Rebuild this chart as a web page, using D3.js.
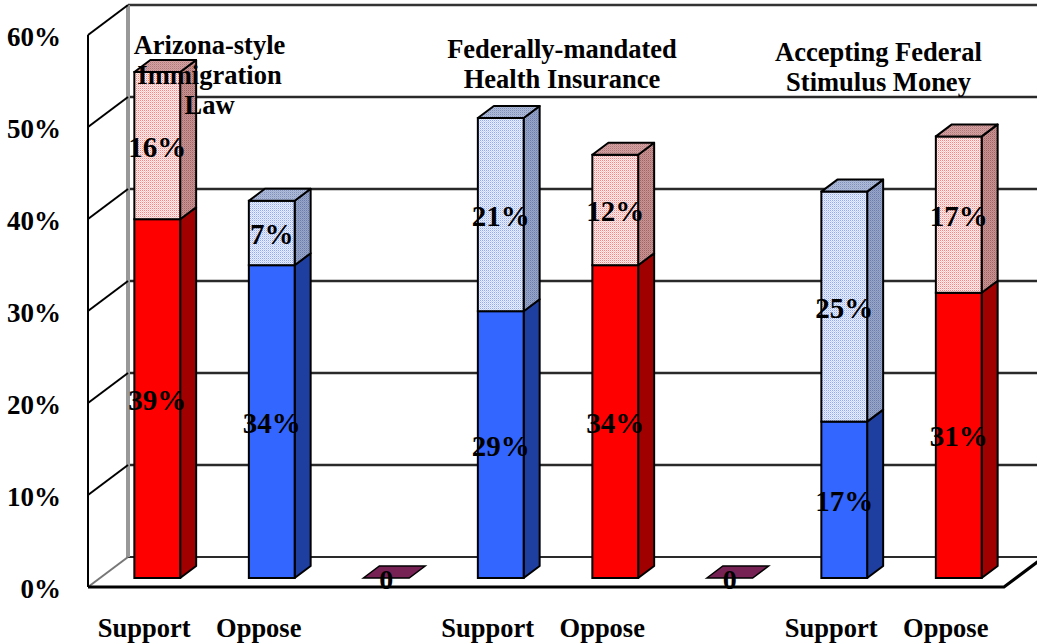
<!DOCTYPE html>
<html>
<head>
<meta charset="utf-8">
<script src="https://cdn.jsdelivr.net/npm/d3@7"></script>
<style>
  html, body { margin: 0; padding: 0; background: #fff; }
  svg { display: block; }
  text { font-family: "Liberation Serif", "Times New Roman", serif; font-weight: bold; fill: #000; }
</style>
</head>
<body>
<svg id="chart" width="1037" height="643"></svg>
<script>
// Bar slots, left to right (blank slots separate the three questions)
const categories = ["Support", "Oppose", "", "Support", "Oppose", "", "Support", "Oppose"];
// Lower (solid) segment of each bar, in percent
const baseValues = [39, 34, 0, 29, 34, 0, 17, 31];
// Upper (light, dotted) segment of each bar, in percent
const topValues  = [16, 7, 0, 21, 12, 0, 25, 17];
// Which colour family each bar belongs to
const camp = ["R", "D", "", "D", "R", "", "D", "R"];
// Question titles, one per group of two bars
const questions = [
  ["Arizona-style", "Immigration", "Law"],
  ["Federally-mandated", "Health Insurance"],
  ["Accepting Federal", "Stimulus Money"]
];
const questionSlots = [[0, 1], [3, 4], [6, 7]];
const yTicks = [0, 10, 20, 30, 40, 50, 60];

const W = 1037, H = 643;
const svg = d3.select("#chart");

// ---- patterns for the dotted (light) segments ----
const defs = svg.append("defs");
function dotted(id, base, dotA, dotB) {
  const p = defs.append("pattern").attr("id", id)
    .attr("width", 2).attr("height", 2).attr("patternUnits", "userSpaceOnUse");
  p.append("rect").attr("width", 2).attr("height", 2).attr("fill", base);
  p.append("rect").attr("x", 0).attr("y", 0).attr("width", 1).attr("height", 1).attr("fill", dotA);
  p.append("rect").attr("x", 1).attr("y", 1).attr("width", 1).attr("height", 1).attr("fill", dotB);
  return `url(#${id})`;
}
const palette = {
  R: {
    front: "#FF0000", side: "#A00000",
    lightFront: dotted("rLF", "#FFF0F0", "#FF8080", "#FFC4C4"),
    lightSide:  dotted("rLS", "#C89494", "#A06464", "#B88080"),
    lightTop:   dotted("rLT", "#D4A4A4", "#B07878", "#C89090")
  },
  D: {
    front: "#3366FF", side: "#1F3FA0",
    lightFront: dotted("dLF", "#EAF0FF", "#92A8F0", "#C4D2FF"),
    lightSide:  dotted("dLS", "#98A6C8", "#6C7CAC", "#8494BC"),
    lightTop:   dotted("dLT", "#B0BCD8", "#8090BC", "#A0AED0")
  }
};

// ---- scales and 3-D projection ----
const x = d3.scaleBand().domain(d3.range(categories.length))
  .range([88, 1004]).paddingInner(0.6).paddingOuter(0.3);
const y = d3.scaleLinear().domain([0, 60]).range([587, 35]);
const DX = 40, DY = -30;                 // full floor depth
const off = z => [DX * z, DY * z];       // screen shift at depth z (0 front, 1 back)
const zBar0 = 0.3, zBar1 = 0.7;          // bars occupy the middle of the depth

const [bx, by] = off(zBar0);
const [sdx, sdy] = [DX * (zBar1 - zBar0), DY * (zBar1 - zBar0)];

const [wx, wy] = off(1);
const gWalls = svg.append("g");

// back wall gridlines (0 line doubles as back edge of floor)
gWalls.selectAll("line.grid").data(yTicks).join("line")
  .attr("class", "grid")
  .attr("x1", 88 + wx).attr("x2", W + 10)
  .attr("y1", d => y(d) + wy).attr("y2", d => y(d) + wy)
  .attr("stroke", d => d === 60 ? "#333" : "#2a2a2a")
  .attr("stroke-width", d => d === 0 ? 2 : 2.5);

// back vertical edge of the side wall
gWalls.append("line")
  .attr("x1", 88 + wx).attr("x2", 88 + wx)
  .attr("y1", y(0) + wy).attr("y2", y(60) + wy)
  .attr("stroke", "#999").attr("stroke-width", 4);

// side wall diagonals
gWalls.selectAll("line.diag").data(yTicks).join("line")
  .attr("class", "diag")
  .attr("x1", 88).attr("y1", d => y(d))
  .attr("x2", 88 + wx).attr("y2", d => y(d) + wy)
  .attr("stroke", d => d === 0 ? "#777" : "#000").attr("stroke-width", 2);

// front vertical edge of the side wall
gWalls.append("line")
  .attr("x1", 88).attr("x2", 88).attr("y1", y(0)).attr("y2", y(60))
  .attr("stroke", "#000").attr("stroke-width", 2);

// floor front edge and right end
gWalls.append("polyline")
  .attr("points", [[88, y(0)], [1004, y(0)], [1004 + wx, y(0) + wy]].map(p => p.join(",")).join(" "))
  .attr("fill", "none").attr("stroke", "#000").attr("stroke-width", 3);

// ---- bars ----
const gBars = svg.append("g");
const pts = a => a.map(p => p.join(",")).join(" ");

categories.forEach((cat, i) => {
  const xl = x(i) + bx, xr = xl + x.bandwidth();
  const yAt = v => y(v) + by;
  const total = baseValues[i] + topValues[i];
  const g = gBars.append("g");

  if (total === 0) {
    // zero-height marker: just the flat top face
    const yt = yAt(0);
    g.append("polygon")
      .attr("points", pts([[xl, yt], [xl + sdx, yt + sdy], [xr + sdx, yt + sdy], [xr, yt]]))
      .attr("fill", "#772255").attr("stroke", "#000").attr("stroke-width", 1.5);
    return;
  }

  const pal = palette[camp[i]];
  const segs = [
    { a: 0, b: baseValues[i], front: pal.front, side: pal.side, top: pal.lightTop },
    { a: baseValues[i], b: total, front: pal.lightFront, side: pal.lightSide, top: pal.lightTop }
  ];
  segs.forEach(s => {
    const ya = yAt(s.a), yb = yAt(s.b);
    g.append("polygon")
      .attr("points", pts([[xr, ya], [xr + sdx, ya + sdy], [xr + sdx, yb + sdy], [xr, yb]]))
      .attr("fill", s.side).attr("stroke", "#000").attr("stroke-width", 2).attr("stroke-linejoin", "round");
    g.append("rect")
      .attr("x", xl).attr("y", yb).attr("width", xr - xl).attr("height", ya - yb)
      .attr("fill", s.front).attr("stroke", "#000").attr("stroke-width", 2);
  });
  const yt = yAt(total);
  g.append("polygon")
    .attr("points", pts([[xl, yt], [xl + sdx, yt + sdy], [xr + sdx, yt + sdy], [xr, yt]]))
    .attr("fill", segs[1].top).attr("stroke", "#000").attr("stroke-width", 2).attr("stroke-linejoin", "round");
});

// ---- value labels ----
const gLabels = svg.append("g");
categories.forEach((cat, i) => {
  const cx = x(i) + bx + x.bandwidth() / 2;
  const yAt = v => y(v) + by;
  const total = baseValues[i] + topValues[i];
  if (total === 0) {
    gLabels.append("text").attr("x", cx).attr("y", yAt(0) + 1)
      .attr("text-anchor", "middle").attr("dominant-baseline", "central")
      .attr("font-size", 28).text("0");
    return;
  }
  [[0, baseValues[i]], [baseValues[i], total]].forEach(([a, b]) => {
    gLabels.append("text").attr("x", cx).attr("y", yAt((a + b) / 2) + 1)
      .attr("text-anchor", "middle").attr("dominant-baseline", "central")
      .attr("font-size", 29).text(`${b - a}%`);
  });
});

// ---- y axis labels ----
svg.append("g").selectAll("text").data(yTicks).join("text")
  .attr("x", 61).attr("y", d => y(d) + 2)
  .attr("text-anchor", "end").attr("dominant-baseline", "central")
  .attr("font-size", 27).text(d => `${d}%`);

// ---- category labels under the floor ----
svg.append("g").selectAll("text")
  .data(categories.map((c, i) => ({ c, i })).filter(d => d.c !== ""))
  .join("text")
  .attr("x", d => x(d.i) + x.bandwidth() / 2 - 1)
  .attr("y", 637)
  .attr("text-anchor", "middle").attr("font-size", 26.5)
  .text(d => d.c);

// ---- question titles above each pair of bars ----
const titleShift = [-5, 4, -23];
const titleTop = [54, 58, 61];
questions.forEach((lines, q) => {
  const [i0, i1] = questionSlots[q];
  const cx = (x(i0) + x(i1) + x.bandwidth()) / 2 + bx + titleShift[q];
  const t = svg.append("text").attr("text-anchor", "middle").attr("font-size", 26.5);
  lines.forEach((ln, k) => {
    t.append("tspan").attr("x", cx).attr("y", titleTop[q] + k * 30).text(ln);
  });
});
</script>
</body>
</html>
